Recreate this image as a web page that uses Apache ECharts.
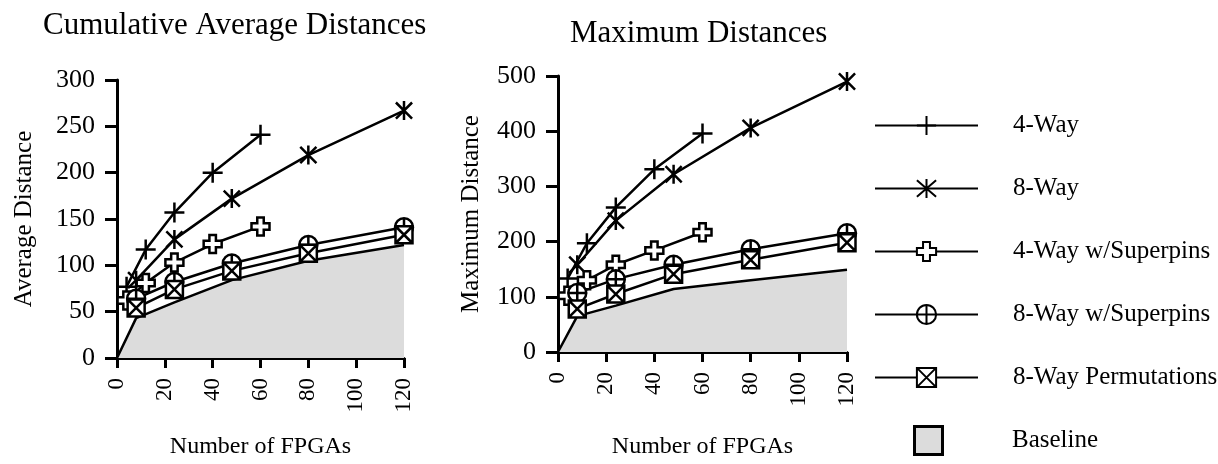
<!DOCTYPE html>
<html>
<head>
<meta charset="utf-8">
<title>Distances</title>
<script src="https://cdn.jsdelivr.net/npm/echarts@6/dist/echarts.min.js"></script>
<style>
html,body{margin:0;padding:0;background:#fff;}
#main{width:1218px;height:464px;}
</style>
</head>
<body>
<div id="main"></div>
<script>
// x positions (number of FPGAs)
var x4 = [4, 12, 24, 40, 60];
var x8 = [8, 24, 48, 80, 120];
var xBase = [0, 8, 24, 48, 80, 120];

// Cumulative average distances
var avg4Way = [77, 117, 157, 200, 241];
var avg8Way = [84, 128, 172, 219, 267];
var avg4WaySp = [62, 81, 103, 123, 142];
var avg8WaySp = [64, 82, 102, 122, 141];
var avg8WayPerm = [54, 74, 94, 113, 133];
var avgBase = [0, 43, 60, 84, 105, 122];

// Maximum distances
var max4Way = [133, 197, 262, 331, 396];
var max8Way = [158, 238, 322, 406, 490];
var max4WaySp = [102, 130, 158, 184, 217];
var max8WaySp = [107, 132, 158, 186, 215];
var max8WayPerm = [78, 105, 141, 167, 198];
var maxBase = [0, 65, 84, 114, 130, 149];

var names = ['4-Way', '8-Way', '4-Way w/Superpins', '8-Way w/Superpins', '8-Way Permutations', 'Baseline'];

var serif = "'Liberation Serif', 'Times New Roman', serif";

// marker shapes
var symPlus = 'path://M0,-1L0,1M-1,0L1,0';
var symStar = 'path://M0,-1L0,1M-0.85,-0.85L0.85,0.85M-0.85,0.85L0.85,-0.85';
var symCross = 'path://M-0.36,-1L0.36,-1L0.36,-0.36L1,-0.36L1,0.36L0.36,0.36L0.36,1L-0.36,1L-0.36,0.36L-1,0.36L-1,-0.36L-0.36,-0.36Z';
var symCircle = 'path://M1,0A1,1 0 1 1 -1,0A1,1 0 1 1 1,0ZM0,-1L0,1M-1,0L1,0';
var symBox = 'path://M-1,-1L1,-1L1,1L-1,1ZM-1,-1L1,1M1,-1L-1,1';

function pairs(xs, ys){
    var out = [];
    for(var i=0;i<xs.length;i++){
        out.push([xs[i], ys[i]]);
    }
    return out;
}

function lineSeries(name, idx, xs, ys, sym, size){
    return {
        name: name,
        type: 'line',
        xAxisIndex: idx,
        yAxisIndex: idx,
        data: pairs(xs, ys),
        symbol: sym,
        symbolSize: size,
        symbolKeepAspect: true,
        showAllSymbol: true,
        silent: true,
        z: 3,
        lineStyle: {color: '#000', width: 2.5},
        itemStyle: {color: '#fff', borderColor: '#000', borderWidth: 2.5}
    };
}

function baseSeries(idx, ys){
    return {
        name: 'Baseline',
        type: 'line',
        xAxisIndex: idx,
        yAxisIndex: idx,
        data: pairs(xBase, ys),
        symbol: 'none',
        silent: true,
        z: 2,
        lineStyle: {color: '#000', width: 2.5},
        itemStyle: {color: '#dcdcdc', borderColor: '#000', borderWidth: 2.5},
        areaStyle: {color: '#dcdcdc', opacity: 1}
    };
}

function xAx(idx, gap){
    return {
        type: 'value',
        gridIndex: idx,
        min: 0,
        max: 120,
        interval: 20,
        name: 'Number of FPGAs',
        nameLocation: 'middle',
        nameGap: gap,
        nameTextStyle: {fontFamily: serif, fontSize: 24, color: '#000'},
        axisLine: {show: true, onZero: false, lineStyle: {color: '#000', width: 3}},
        axisTick: {show: true, length: 10, lineStyle: {color: '#000', width: 3}},
        axisLabel: {rotate: 90, margin: 20, fontFamily: serif, fontSize: 23, color: '#000'},
        splitLine: {show: false}
    };
}

function yAx(idx, max, interval, name, gap){
    return {
        type: 'value',
        gridIndex: idx,
        min: 0,
        max: max,
        interval: interval,
        name: name,
        nameLocation: 'middle',
        nameGap: gap,
        nameTextStyle: {fontFamily: serif, fontSize: 25, color: '#000'},
        axisLine: {show: true, lineStyle: {color: '#000', width: 3}},
        axisTick: {show: true, length: 12, lineStyle: {color: '#000', width: 3}},
        axisLabel: {margin: 22, fontFamily: serif, fontSize: 26, color: '#000'},
        splitLine: {show: false}
    };
}

var chart = echarts.init(document.getElementById('main'), null, {renderer: 'canvas'});

var option = {
    backgroundColor: '#fff',
    animation: false,
    title: [
        {text: 'Cumulative Average Distances', left: 43, top: 10, padding: 0,
         textStyle: {fontFamily: serif, fontSize: 31, fontWeight: 'normal', color: '#000'}},
        {text: 'Maximum Distances', left: 570, top: 18, padding: 0,
         textStyle: {fontFamily: serif, fontSize: 31, fontWeight: 'normal', color: '#000'}}
    ],
    legend: [
        {
            data: names.slice(0, 5),
            orient: 'vertical',
            left: 874,
            top: 113,
            padding: 0,
            itemWidth: 103,
            itemHeight: 24,
            itemGap: 38,
            selectedMode: false,
            textStyle: {fontFamily: serif, fontSize: 25, color: '#000', padding: [0, 0, 0, 30]}
        },
        {
            data: [{name: 'Baseline', icon: 'path://M0,0L1,0L1,1L0,1Z'}],
            orient: 'vertical',
            left: 913,
            top: 425,
            padding: 0,
            itemWidth: 103,
            itemHeight: 28,
            selectedMode: false,
            itemStyle: {color: '#dcdcdc', borderColor: '#000', borderWidth: 3},
            textStyle: {fontFamily: serif, fontSize: 25, color: '#000', padding: [0, 0, 0, 27]}
        }
    ],
    grid: [
        {left: 117, top: 80, width: 287, height: 287},
        {left: 558, top: 76, width: 289, height: 288}
    ],
    xAxis: [xAx(0, 77), xAx(1, 83)],
    yAxis: [
        yAx(0, 300, 50, 'Average Distance', 80),
        yAx(1, 500, 100, 'Maximum Distance', 74)
    ],
    series: [
        baseSeries(0, avgBase),
        lineSeries(names[0], 0, x4, avg4Way, symPlus, 20),
        lineSeries(names[1], 0, x8, avg8Way, symStar, 19),
        lineSeries(names[2], 0, x4, avg4WaySp, symCross, 18),
        lineSeries(names[3], 0, x8, avg8WaySp, symCircle, 18),
        lineSeries(names[4], 0, x8, avg8WayPerm, symBox, 17),
        baseSeries(1, maxBase),
        lineSeries(names[0], 1, x4, max4Way, symPlus, 20),
        lineSeries(names[1], 1, x8, max8Way, symStar, 19),
        lineSeries(names[2], 1, x4, max4WaySp, symCross, 18),
        lineSeries(names[3], 1, x8, max8WaySp, symCircle, 18),
        lineSeries(names[4], 1, x8, max8WayPerm, symBox, 17)
    ]
};

chart.setOption(option);
</script>
</body>
</html>
